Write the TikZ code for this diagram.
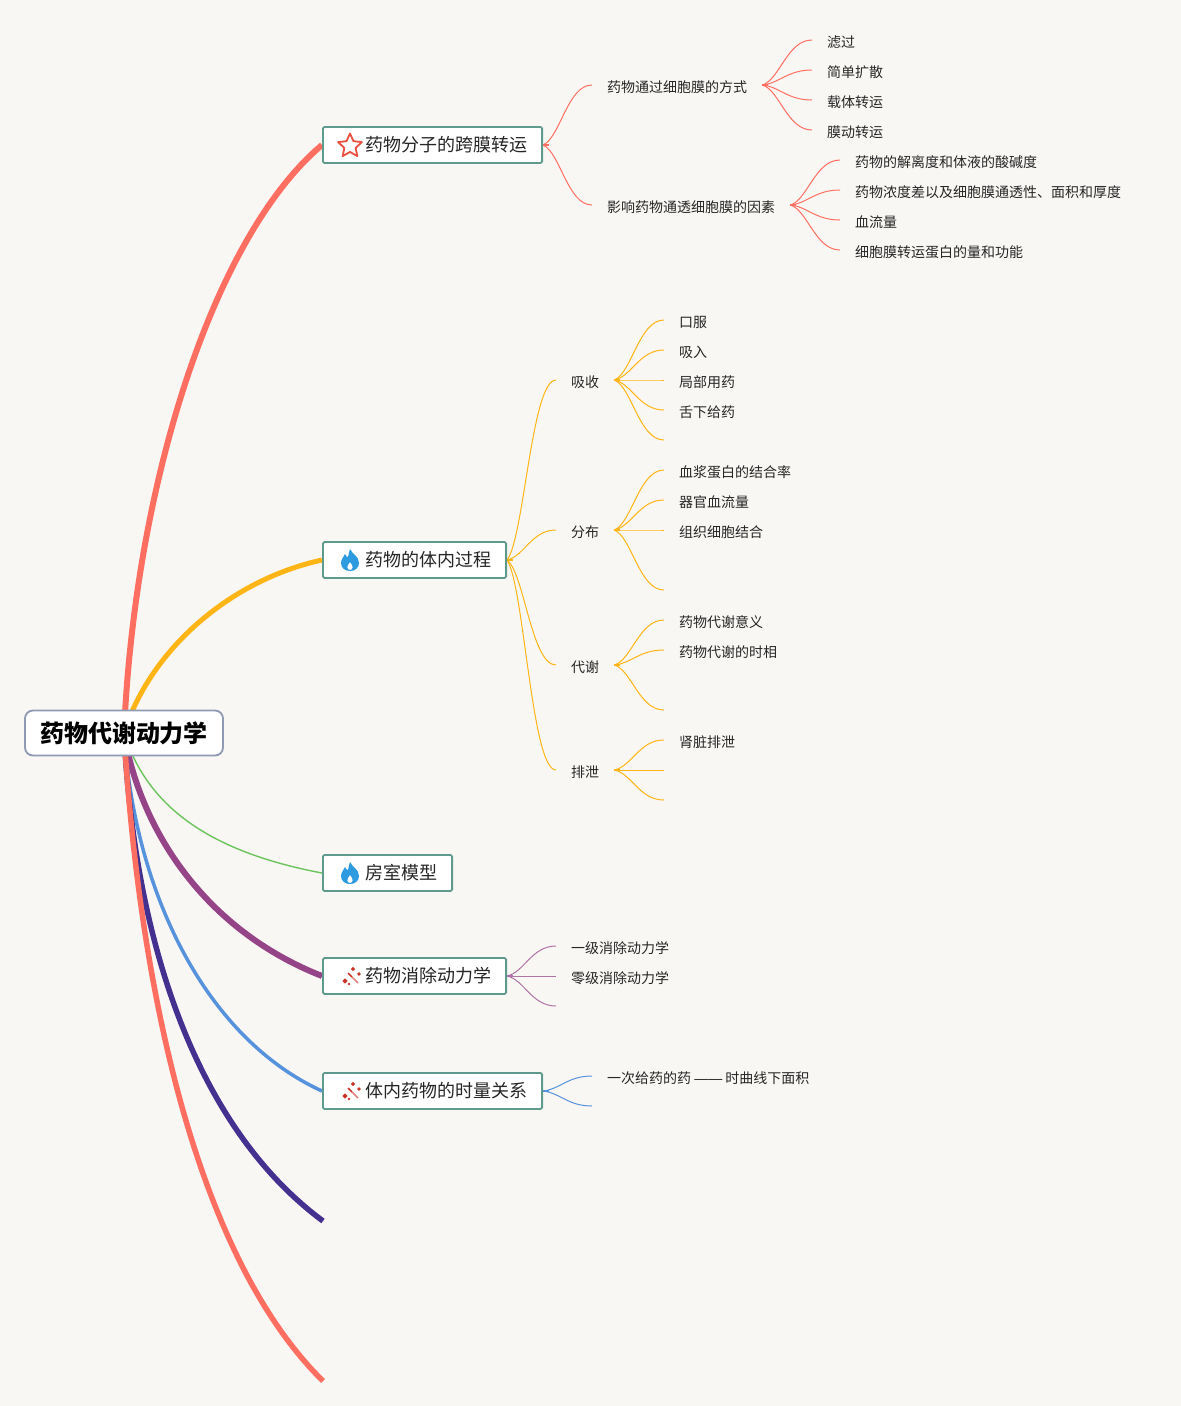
\documentclass[tikz,border=0pt]{standalone}
\usepackage{fontspec}
\setmainfont{Noto Sans CJK SC}
\newfontfamily\dashfont{Liberation Sans}
\usetikzlibrary{calc,backgrounds,shapes.geometric}
\definecolor{bgc}{HTML}{F9F7F4}
\definecolor{cred}{HTML}{FF6F61}
\definecolor{corange}{HTML}{FFB515}
\definecolor{cgreen}{HTML}{6CC55C}
\definecolor{cpurple}{HTML}{964488}
\definecolor{cblue}{HTML}{5793DC}
\definecolor{cnavy}{HTML}{44308F}
\definecolor{boxline}{HTML}{5F9B8D}
\definecolor{rootline}{HTML}{8F9AB5}
\definecolor{flamec}{HTML}{2E9BE0}
\definecolor{wandc}{HTML}{CC3328}
\definecolor{starc}{HTML}{E9503F}
\definecolor{txt}{HTML}{262626}
\tikzset{
 rootbox/.style={draw=rootline,line width=1.8pt,fill=white,rounded corners=8pt,inner xsep=15pt,minimum height=45pt,font=\fontsize{24}{28}\selectfont\bfseries,text=black},
 topicbox/.style={draw=boxline,line width=1.8pt,fill=white,rounded corners=1.5pt,inner xsep=14.6pt,minimum height=36pt,anchor=west,font=\fontsize{18}{22}\selectfont,text=txt},
 leaftext/.style={inner sep=0pt,anchor=west,font=\fontsize{14}{17}\selectfont,text=txt},
 thick branch/.style={line width=#1},
 thin branch/.style={line width=1pt},
 stub/.style={line width=1.7pt},
}
% short thick stub at the fork, then an S curve that lands level
\newcommand{\brch}[3]{\draw[stub,#1] (#2) -- +(6,0);
 \draw[thin branch,#1] let \p1=($(#3)-(#2)$) in (#2) .. controls ($(#2)+(.35*\x1,.12*\y1)$) and ($(#2)+(.5*\x1,\y1)$) .. (#3);}
\newcommand{\leaf}[4]{\node[leaftext] (#1) at (#2,#3+1) {#4};\coordinate (#1t) at ($(#1.west)+(-15,-2)$);}
\newcommand{\fork}[1]{\coordinate (#1f) at ($(#1.east)+(15,-2)$);}
\newcommand{\flameicon}[1]{\fill[flamec,even odd rule,shift={(#1)}] (0,-11) .. controls (2,-6) and (9,-4) .. (9,3) .. controls (9,8) and (5,11) .. (0,11) .. controls (-5,11) and (-9,8) .. (-9,3) .. controls (-9,-1) and (-6,-3) .. (-5,-6) .. controls (-4,-4) and (-3,-3) .. (-2,-3) .. controls (-1,-6) and (-1,-9) .. (0,-11) -- cycle (0,2) .. controls (4,6) and (3,10) .. (0,10) .. controls (-3,10) and (-4,6) .. (0,2) -- cycle;}
\newcommand{\wandicon}[1]{\begin{scope}[shift={(#1)}]
 \draw[wandc,line width=1.5pt] (-3,-3) -- (1,1);
 \draw[wandc!60,line width=1.5pt] (1,1) -- (7,7);
 \foreach \a/\b/\r in {-6/5/2.6,-2/8/1.3,2/-7/2.2,8/-2/1.8}{
  \fill[wandc] (\a-\r,\b) -- (\a,\b-\r) -- (\a+\r,\b) -- (\a,\b+\r) -- cycle;}
\end{scope}}
\newcommand{\ttl}[1]{\hspace{28pt}\raisebox{-2pt}{#1}}
\begin{document}
\begin{tikzpicture}[x=1pt,y=-1pt]
\useasboundingbox (0,0) rectangle (1181,1406);
% root and topics
\node[rootbox] (root) at (124,733) {\raisebox{-2pt}{药物代谢动力学}};
\node[topicbox] (t1) at (322,145) {\ttl{药物分子的跨膜转运}};
\node[topicbox] (t2) at (322,560) {\ttl{药物的体内过程}};
\node[topicbox] (t3) at (322,873) {\ttl{房室模型}};
\node[topicbox] (t4) at (322,976) {\ttl{药物消除动力学}};
\node[topicbox] (t5) at (322,1091) {\ttl{体内药物的时量关系}};
\coordinate (endnavy) at (323,1221);
\coordinate (endred) at (323,1381);
% icons
\node[star,star points=5,star point ratio=2.1,draw=starc,fill=white,line width=1.8pt,line join=round,inner sep=0pt,minimum size=25pt] (staricon) at ($(t1.west)+(28,1)$) {};
\flameicon{$(t2.west)+(28,0)$}
\flameicon{$(t3.west)+(28,0)$}
\wandicon{$(t4.west)+(29,0)$}
\wandicon{$(t5.west)+(29,0)$}
% text leaves
\leaf{a}{607}{86}{药物通过细胞膜的方式}
\leaf{b}{607}{206}{影响药物通透细胞膜的因素}
\leaf{a1}{827}{41}{滤过}
\leaf{a2}{827}{71}{简单扩散}
\leaf{a3}{827}{101}{载体转运}
\leaf{a4}{827}{131}{膜动转运}
\leaf{b1}{855}{161}{药物的解离度和体液的酸碱度}
\leaf{b2}{855}{191}{药物浓度差以及细胞膜通透性、面积和厚度}
\leaf{b3}{855}{221}{血流量}
\leaf{b4}{855}{251}{细胞膜转运蛋白的量和功能}
\leaf{c}{571}{381}{吸收}
\leaf{d}{571}{531}{分布}
\leaf{e}{571}{666}{代谢}
\leaf{g}{571}{771}{排泄}
\leaf{c1}{679}{321}{口服}
\leaf{c2}{679}{351}{吸入}
\leaf{c3}{679}{381}{局部用药}
\leaf{c4}{679}{411}{舌下给药}
\leaf{d1}{679}{471}{血浆蛋白的结合率}
\leaf{d2}{679}{501}{器官血流量}
\leaf{d3}{679}{531}{组织细胞结合}
\leaf{e1}{679}{621}{药物代谢意义}
\leaf{e2}{679}{651}{药物代谢的时相}
\leaf{g1}{679}{741}{肾脏排泄}
\leaf{h1}{571}{947}{一级消除动力学}
\leaf{h2}{571}{977}{零级消除动力学}
\leaf{i1}{607}{1077}{一次给药的药 {\dashfont ——} 时曲线下面积}
\fork{a}\fork{b}\fork{c}\fork{d}\fork{e}\fork{g}
\coordinate (c5) at (664,440);
\coordinate (d4) at (664,590);
\coordinate (e3) at (664,710);
\coordinate (g2) at (664,770);
\coordinate (g3) at (664,800);
\coordinate (h3) at (556,1006);
\coordinate (i2) at (592,1106);
\begin{scope}[on background layer]
\fill[bgc] (0,0) rectangle (1181,1406);
% main branches
\draw[cred,thick branch=6pt] (root.center) .. controls (135,480) and (215,235) .. (t1.west);
\draw[corange,thick branch=5pt] (root.center) .. controls (150,650) and (230,580) .. (t2.west);
\draw[cgreen,thick branch=1.4pt] (root.center) .. controls (145,800) and (200,850) .. (t3.west);
\draw[cpurple,thick branch=6pt] (root.center) .. controls (140,830) and (205,930) .. (t4.west);
\draw[cblue,thick branch=3.5pt] (root.center) .. controls (135,900) and (210,1040) .. (t5.west);
\draw[cnavy,thick branch=5.5pt] (root.center) .. controls (135,950) and (200,1130) .. (endnavy);
\draw[cred,thick branch=5.5pt] (root.center) .. controls (140,1000) and (200,1260) .. (endred);
% topic 1
\brch{cred}{t1.east}{at}\brch{cred}{t1.east}{bt}
\foreach \nd in {a1,a2,a3,a4}{\brch{cred}{af}{\nd t}}
\foreach \nd in {b1,b2,b3,b4}{\brch{cred}{bf}{\nd t}}
% topic 2
\foreach \nd in {ct,dt,et,gt}{\brch{corange}{t2.east}{\nd}}
\foreach \nd in {c1t,c2t,c3t,c4t,c5}{\brch{corange}{cf}{\nd}}
\foreach \nd in {d1t,d2t,d3t,d4}{\brch{corange}{df}{\nd}}
\foreach \nd in {e1t,e2t,e3}{\brch{corange}{ef}{\nd}}
\foreach \nd in {g1t,g2,g3}{\brch{corange}{gf}{\nd}}
% topic 4
\foreach \nd in {h1t,h2t,h3}{\brch{cpurple!75!white}{t4.east}{\nd}}
% topic 5
\foreach \nd in {i1t,i2}{\brch{cblue}{t5.east}{\nd}}
\end{scope}
\end{tikzpicture}
\end{document}
